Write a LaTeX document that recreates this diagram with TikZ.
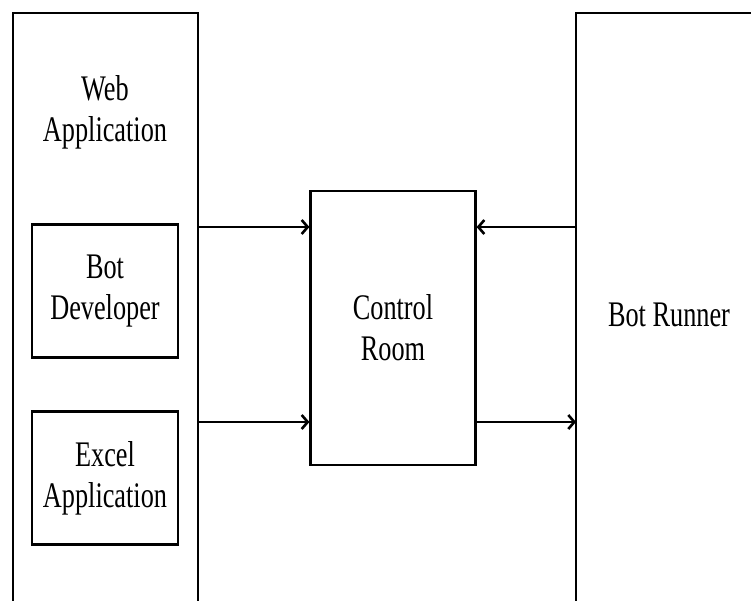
\documentclass[tikz,border=0pt]{standalone}
\usepackage{fontspec}
\setmainfont{Liberation Serif}[FakeStretch=0.73]
\usetikzlibrary{positioning,arrows.meta}
\tikzset{
  box/.style={draw,line width=2.2pt,align=center,inner sep=0pt},
  lbl/.style={align=center,inner sep=0pt},
  flow/.style={-{Straight Barb[length=6pt,width=14pt,line width=2.6pt]},line width=2.6pt}
}
\begin{document}
\begin{tikzpicture}[x=1pt,y=-1pt,font=\fontsize{36}{41}\selectfont]
\useasboundingbox (0,0) rectangle (751,600);
% outer panels, open at the bottom
\draw[line width=2.2pt] (13,610) -- (13,13) -- (198,13) -- (198,610);
\draw[line width=2.2pt] (576,610) -- (576,13) -- (760,13);
\node[lbl] (web) at (105,112) {Web\\Application};
\node[lbl] (runner) at (669,315) {Bot Runner};
% inner boxes
\node[box,minimum width=146pt,minimum height=133pt] (dev) at (105,291) {Bot\\Developer};
\node[box,minimum width=146pt,minimum height=133pt] (excel) at (105,478) {Excel\\Application};
\node[box,minimum width=165pt,minimum height=274pt] (room) at (393,328) {Control\\Room};
\coordinate (wa1) at (198,227);
\coordinate (wa2) at (198,422);
\coordinate (br1) at (576,227);
\coordinate (br2) at (576,422);
\draw[flow] (wa1) -- (wa1 -| room.west);
\draw[flow] (wa2) -- (wa2 -| room.west);
\draw[flow] (br1) -- (br1 -| room.east);
\draw[flow] (br2 -| room.east) -- (br2);
\end{tikzpicture}
\end{document}
